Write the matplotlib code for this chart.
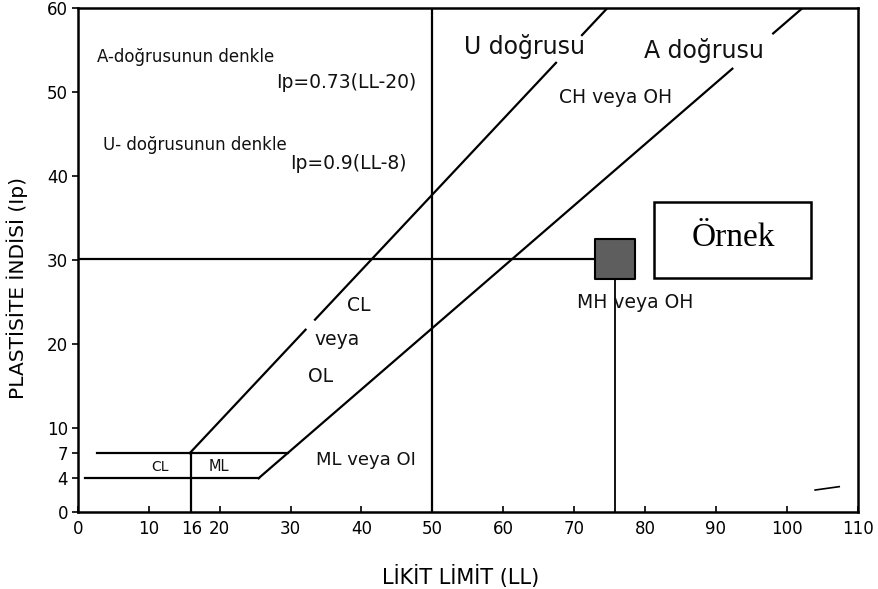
import matplotlib
matplotlib.use("Agg")
import matplotlib.pyplot as plt
from matplotlib.patches import Rectangle

plt.rcParams['font.family'] = ['DejaVu Sans']

# A line: Ip = 0.73(LL-20), U line: Ip = 0.9(LL-8)
# drawn in pieces (Ip ranges) as in the chart, with gaps near the labels
u_pieces = [(7, 21.7), (22.9, 53.5), (56.8, 60)]
a_pieces = [(4, 52.8), (57.0, 60)]

# low plasticity band
band_ip = [4, 7]
band_ll_start = [1.0, 2.7]
cl_ml_ll = 16

# sample point
sample_ll = 75.7
sample_ip = 30.1

x_ticks = [0, 10, 16, 20, 30, 40, 50, 60, 70, 80, 90, 100, 110]
y_ticks = [0, 4, 7, 10, 20, 30, 40, 50, 60]

labels = [
    ("A-doğrusunun denkle", 2.7, 54.2, 12),
    ("Ip=0.73(LL-20)", 27.9, 51.2, 13.5),
    ("U- doğrusunun denkle", 3.5, 43.7, 12),
    ("Ip=0.9(LL-8)", 30.0, 41.5, 13.5),
    ("U doğrusu", 54.5, 55.4, 17),
    ("A doğrusu", 79.9, 55.0, 17),
    ("CH veya OH", 67.8, 49.4, 13.5),
    ("CL", 38.0, 24.6, 13.5),
    ("veya", 33.4, 20.5, 13.5),
    ("OL", 32.5, 16.1, 13.5),
    ("MH veya OH", 70.4, 25.0, 13.5),
    ("ML veya OI", 33.6, 6.2, 13),
    ("CL", 10.4, 5.4, 10),
    ("ML", 18.4, 5.4, 10.5),
]


def u_ll(ip):
    return ip / 0.9 + 8


def a_ll(ip):
    return ip / 0.73 + 20


fig = plt.figure(figsize=(8.79, 5.89), dpi=100)
ax = fig.add_axes([0.0887, 0.131, 0.887, 0.855])
ax.set_xlim(0, 110)
ax.set_ylim(0, 60)

lw = 1.6
for lo, hi in u_pieces:
    ax.plot([u_ll(lo), u_ll(hi)], [lo, hi], color='black', lw=lw)
for lo, hi in a_pieces:
    ax.plot([a_ll(lo), a_ll(hi)], [lo, hi], color='black', lw=lw)

# Ip = 4 and Ip = 7 horizontal lines
ax.plot([band_ll_start[0], a_ll(band_ip[0])], [band_ip[0]] * 2, color='black', lw=lw)
ax.plot([band_ll_start[1], a_ll(band_ip[1])], [band_ip[1]] * 2, color='black', lw=lw)
ax.plot([cl_ml_ll, cl_ml_ll], [0, band_ip[1]], color='black', lw=lw)

# LL = 50 divider
ax.axvline(50, color='black', lw=lw)

# sample lines and marker
ax.plot([0, sample_ll], [sample_ip, sample_ip], color='black', lw=lw)
ax.plot([sample_ll, sample_ll], [0, sample_ip], color='black', lw=1.3)
ax.scatter([sample_ll], [sample_ip], marker='s', s=870, color='#5e5e5e',
           edgecolors='black', linewidths=1.5, zorder=5)

# Örnek box
ax.add_patch(Rectangle((81.3, 27.9), 22.1, 9.0, facecolor='white',
                       edgecolor='black', lw=1.8, zorder=4))
ax.text(92.5, 32.6, "Örnek", family='Liberation Serif', fontsize=24,
        ha='center', va='center', zorder=6)

# small stray stroke near the corner
ax.plot([104.0, 107.4], [2.6, 3.0], color='black', lw=1.2)

for txt, x, y, fs in labels:
    ax.text(x, y, txt, fontsize=fs, ha='left', va='center', color='#111111')

ax.set_xticks(x_ticks)
ax.set_yticks(y_ticks)
ax.tick_params(axis='both', labelsize=12, length=4, width=1.2, pad=3)
ax.tick_params(axis='x', direction='in', pad=6)
for s in ax.spines.values():
    s.set_linewidth(1.8)

ax.set_xlabel("LİKİT LİMİT (LL)", fontsize=15)
ax.xaxis.set_label_coords(0.491, -0.105)
ax.set_ylabel("PLASTİSİTE İNDİSİ (Ip)", fontsize=14.5)
ax.yaxis.set_label_coords(-0.064, 0.444)

fig.savefig("out.png", dpi=100)
